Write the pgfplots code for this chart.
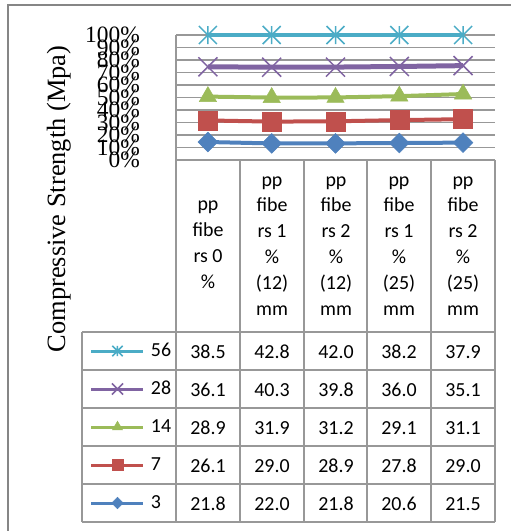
\documentclass[border=0pt]{standalone}
\usepackage{pgfplots}
\pgfplotsset{compat=1.18}
\usepackage{fontspec}
\setmainfont{Liberation Serif}
\newfontfamily\calibri{Carlito}
\usetikzlibrary{plotmarks}
\definecolor{cBlue}{RGB}{79,129,189}
\definecolor{cRed}{RGB}{192,80,77}
\definecolor{cGreen}{RGB}{155,187,89}
\definecolor{cPurple}{RGB}{128,100,162}
\definecolor{cAqua}{RGB}{75,172,198}
\definecolor{gridc}{RGB}{152,152,152}
\definecolor{framec}{RGB}{134,134,134}

\pgfdeclareplotmark{xcorner}{%
  \pgfpathmoveto{\pgfqpoint{-\pgfplotmarksize}{-\pgfplotmarksize}}%
  \pgfpathlineto{\pgfqpoint{\pgfplotmarksize}{\pgfplotmarksize}}%
  \pgfpathmoveto{\pgfqpoint{-\pgfplotmarksize}{\pgfplotmarksize}}%
  \pgfpathlineto{\pgfqpoint{\pgfplotmarksize}{-\pgfplotmarksize}}%
  \pgfusepathqstroke}
\pgfdeclareplotmark{xstar}{%
  \pgfpathmoveto{\pgfqpoint{-\pgfplotmarksize}{-\pgfplotmarksize}}%
  \pgfpathlineto{\pgfqpoint{\pgfplotmarksize}{\pgfplotmarksize}}%
  \pgfpathmoveto{\pgfqpoint{-\pgfplotmarksize}{\pgfplotmarksize}}%
  \pgfpathlineto{\pgfqpoint{\pgfplotmarksize}{-\pgfplotmarksize}}%
  \pgfpathmoveto{\pgfqpoint{0pt}{\pgfplotmarksize}}%
  \pgfpathlineto{\pgfqpoint{0pt}{-\pgfplotmarksize}}%
  \pgfusepathqstroke}

\begin{document}
\begin{tikzpicture}
\path[use as bounding box] (0bp,0bp) rectangle (519bp,-531bp);
\draw[framec, line width=2bp] (8bp,-531bp) -- (8bp,-5bp) -- (511bp,-5bp);

\begin{axis}[
  at={(176bp,-160bp)}, anchor=south west,
  scale only axis, width=319bp, height=125bp,
  xmin=0.5, xmax=5.5, ymin=0, ymax=100,
  axis x line*=bottom, axis y line*=left,
  axis line style={-, draw=gridc, line width=1.2bp},
  xtick=\empty,
  ytick={0,10,20,30,40,50,60,70,80,90,100},
  major tick length=0pt,
  ymajorgrids, grid style={draw=gridc, line width=1.2bp},
  /pgf/number format/assume math mode=true,
  yticklabel={\pgfmathprintnumber{\tick}\%},
  yticklabel style={font=\fontsize{23.5}{24}\selectfont, anchor=east, inner sep=0pt, xshift=-36bp},
  clip=false,
  reverse legend,
  legend style={at={(axis description cs:-0.2696,-1.456)}, anchor=north west,
    draw=none, fill=none, inner sep=0pt, outer sep=0pt,
    row sep=20bp, column sep=6bp,
    font=\calibri\fontsize{20}{24}\selectfont,
    nodes={inner sep=0pt, outer sep=0pt, text height=14bp, text depth=4bp}},
  legend cell align=left,
  legend image code/.code={%
    \draw[mark repeat=2, mark phase=2, line width=3bp,
      every mark/.append style={scale=0.58}]
      plot coordinates {(0bp,0bp) (26bp,0bp) (52bp,0bp)};},
]
\addplot[color=cBlue, line width=4bp, mark=square*, mark size=7bp,
  mark options={solid, rotate=45, fill=cBlue, draw=cBlue, line width=0.5bp}]
  coordinates {(1,14.40) (2,13.25) (3,13.32) (4,13.58) (5,13.91)};
\addlegendentry{3}
\addplot[color=cRed, line width=4bp, mark=square*, mark size=9.5bp,
  mark options={solid, fill=cRed, draw=cRed, line width=0.5bp}]
  coordinates {(1,31.64) (2,30.72) (3,30.97) (4,31.91) (5,32.66)};
\addlegendentry{7}
\addplot[color=cGreen, line width=4bp, mark=triangle*, mark size=10bp,
  mark options={solid, fill=cGreen, draw=cGreen, line width=0.5bp}]
  coordinates {(1,50.73) (2,49.94) (3,50.03) (4,51.09) (5,52.78)};
\addlegendentry{14}
\addplot[color=cPurple, line width=5bp, mark=xcorner, mark size=9.5bp,
  mark options={solid, draw=cPurple, line width=1.5bp}]
  coordinates {(1,74.57) (2,74.22) (3,74.34) (4,74.82) (5,75.49)};
\addlegendentry{28}
\addplot[color=cAqua, line width=3.5bp, mark=xstar, mark size=9bp,
  mark options={solid, draw=cAqua, line width=1.5bp}]
  coordinates {(1,100) (2,100) (3,100) (4,100) (5,100)};
\addlegendentry{56}
\end{axis}

% y label
\node[rotate=90, anchor=base, inner sep=0pt, font=\fontsize{26.5}{28}\selectfont]
  at (65bp,-199bp) {Compressive Strength (Mpa)};

% table grid
\begin{scope}[gridc, line width=1.2bp]
\foreach \x in {176,240,304,367,431,495} \draw (\x bp,-160bp) -- (\x bp,-522bp);
\draw (82bp,-332bp) -- (82bp,-522bp);
\foreach \y in {332,370,408,446,484,522} \draw (82bp,-\y bp) -- (495bp,-\y bp);
\end{scope}

% header
\begin{scope}[every node/.style={align=center, inner sep=0pt, font=\calibri\fontsize{20}{26}\selectfont}]
\node at (208bp,-245bp) {pp\\fibe\\rs 0\\\%};
\node at (272bp,-246bp) {pp\\fibe\\rs 1\\\%\\(12)\\mm};
\node at (336bp,-246bp) {pp\\fibe\\rs 2\\\%\\(12)\\mm};
\node at (399bp,-246bp) {pp\\fibe\\rs 1\\\%\\(25)\\mm};
\node at (463bp,-246bp) {pp\\fibe\\rs 2\\\%\\(25)\\mm};
\end{scope}

% data cells
\begin{scope}[every node/.style={anchor=base, inner sep=0pt, font=\calibri\fontsize{20}{24}\selectfont}]
\foreach \x/\v in {208/38.5,272/42.8,336/42.0,399/38.2,463/37.9} \node at (\x bp,-358bp) {\v};
\foreach \x/\v in {208/36.1,272/40.3,336/39.8,399/36.0,463/35.1} \node at (\x bp,-396bp) {\v};
\foreach \x/\v in {208/28.9,272/31.9,336/31.2,399/29.1,463/31.1} \node at (\x bp,-434bp) {\v};
\foreach \x/\v in {208/26.1,272/29.0,336/28.9,399/27.8,463/29.0} \node at (\x bp,-472bp) {\v};
\foreach \x/\v in {208/21.8,272/22.0,336/21.8,399/20.6,463/21.5} \node at (\x bp,-510bp) {\v};
\end{scope}
\end{tikzpicture}
\end{document}
